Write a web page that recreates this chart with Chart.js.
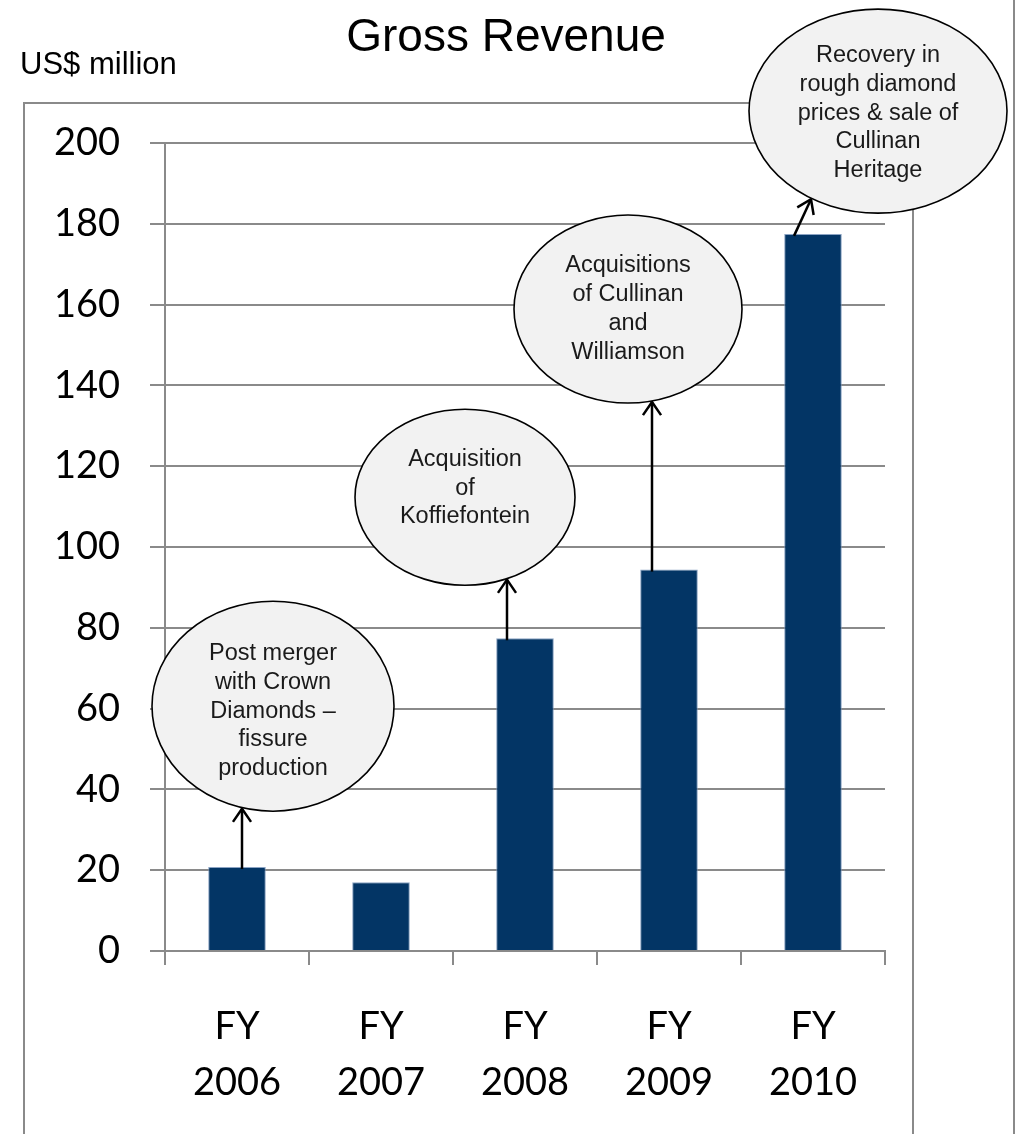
<!DOCTYPE html>
<html>
<head>
<meta charset="utf-8">
<script src="https://cdn.jsdelivr.net/npm/chart.js@4"></script>
<style>
  html, body { margin: 0; padding: 0; background: #fff; }
  #wrap { width: 1016px; height: 1134px; position: relative; }
</style>
</head>
<body>
<div id="wrap"><canvas id="revChart" width="1016" height="1134"></canvas></div>
<script>
// datos del grafico
const years = [['FY', '2006'], ['FY', '2007'], ['FY', '2008'], ['FY', '2009'], ['FY', '2010']];
const revenue = [20.8, 17.0, 77.4, 94.4, 177.5];
const yTicks = [0, 20, 40, 60, 80, 100, 120, 140, 160, 180, 200];

// notas (globos) sobre las barras
const noteBar = [0, 2, 3, 4];
const noteLevel = [60.6, 112.3, 158.9, 207.9];
const noteText = [
    ['Post merger', 'with Crown', 'Diamonds \u2013', 'fissure', 'production'],
    ['Acquisition', 'of', 'Koffiefontein'],
    ['Acquisitions', 'of Cullinan', 'and', 'Williamson'],
    ['Recovery in', 'rough diamond', 'prices & sale of', 'Cullinan', 'Heritage']
];
// posicion de cada globo respecto al centro de la barra
const noteStyle = [
    { dx: 36, rx: 121, ry: 105, textDy: 5, arrowFrom: 5, arrowTo: 5 },
    { dx: -60, rx: 110, ry: 88, textDy: -9, arrowFrom: -18, arrowTo: -18 },
    { dx: -41, rx: 114, ry: 94, textDy: 0, arrowFrom: -17, arrowTo: -17 },
    { dx: 65, rx: 129, ry: 102, textDy: 2, arrowFrom: -19, arrowTo: -2 }
];

const gridGray = '#8a8a8a';

// marco, titulo y unidad
const framePlugin = {
    id: 'frame',
    beforeDraw(chart) {
        const ctx = chart.ctx;
        ctx.save();
        ctx.strokeStyle = gridGray;
        ctx.lineWidth = 2;
        ctx.beginPath();
        ctx.moveTo(24, 1140);
        ctx.lineTo(24, 103);
        ctx.lineTo(913, 103);
        ctx.lineTo(913, 1140);
        ctx.moveTo(1014, 0);
        ctx.lineTo(1014, 1140);
        ctx.stroke();

        ctx.fillStyle = '#000';
        ctx.textBaseline = 'alphabetic';
        ctx.font = '46px "Liberation Sans", Arial, sans-serif';
        ctx.textAlign = 'center';
        ctx.fillText('Gross Revenue', 506, 51);
        ctx.font = '31px "Liberation Sans", Arial, sans-serif';
        ctx.textAlign = 'left';
        ctx.fillText('US$ million', 20, 74);
        ctx.restore();
    }
};

// globos con flechas
const notesPlugin = {
    id: 'notes',
    afterDraw(chart) {
        const ctx = chart.ctx;
        const xs = chart.scales.x;
        const ys = chart.scales.y;
        const bars = chart.getDatasetMeta(0).data;
        ctx.save();
        noteBar.forEach((b, i) => {
            const st = noteStyle[i];
            const barX = xs.getPixelForValue(b);
            const barTop = bars[b].y;
            const cx = barX + st.dx;
            const cy = ys.getPixelForValue(noteLevel[i]);

            // flecha
            const x0 = barX + st.arrowFrom;
            const x1 = barX + st.arrowTo;
            const k = (x1 - cx) / st.rx;
            const y1 = cy + st.ry * Math.sqrt(Math.max(0, 1 - k * k)) + 1;
            const y0 = barTop + 2;
            ctx.strokeStyle = '#000';
            ctx.lineWidth = 2.5;
            ctx.beginPath();
            ctx.moveTo(x0, y0);
            ctx.lineTo(x1, y1);
            ctx.stroke();
            const ang = Math.atan2(y1 - y0, x1 - x0);
            const len = 16, spread = 0.6;
            ctx.beginPath();
            ctx.moveTo(x1 - len * Math.cos(ang - spread), y1 - len * Math.sin(ang - spread));
            ctx.lineTo(x1, y1);
            ctx.lineTo(x1 - len * Math.cos(ang + spread), y1 - len * Math.sin(ang + spread));
            ctx.stroke();

            // elipse
            ctx.beginPath();
            ctx.ellipse(cx, cy, st.rx, st.ry, 0, 0, Math.PI * 2);
            ctx.fillStyle = '#f2f2f2';
            ctx.fill();
            ctx.lineWidth = 1.6;
            ctx.strokeStyle = '#000';
            ctx.stroke();

            // texto
            const lines = noteText[i];
            const lh = 28.7;
            ctx.fillStyle = '#1a1a1a';
            ctx.font = '23.5px "Liberation Sans", Arial, sans-serif';
            ctx.textAlign = 'center';
            ctx.textBaseline = 'middle';
            const startY = cy + st.textDy - (lines.length - 1) * lh / 2;
            lines.forEach((ln, j) => ctx.fillText(ln, cx, startY + j * lh));
        });
        ctx.restore();
    }
};

const ctx = document.getElementById('revChart').getContext('2d');
const chartInstance = new Chart(ctx, {
    type: 'bar',
    data: {
        labels: years,
        datasets: [{
            label: 'Gross Revenue',
            data: revenue,
            backgroundColor: '#033565',
            borderColor: 'rgba(110,140,180,0.8)',
            borderWidth: 1,
            borderSkipped: 'bottom',
            barPercentage: 0.4,
            categoryPercentage: 1.0
        }]
    },
    options: {
        responsive: false,
        animation: false,
        devicePixelRatio: 1,
        layout: { padding: { top: 143, right: 131, bottom: 0, left: 0 } },
        plugins: {
            legend: { display: false },
            title: { display: false },
            tooltip: { enabled: false }
        },
        scales: {
            x: {
                grid: {
                    drawOnChartArea: false,
                    drawTicks: true,
                    tickLength: 14,
                    color: gridGray,
                    lineWidth: 2
                },
                border: { display: true, color: gridGray, width: 2 },
                ticks: {
                    color: '#000',
                    padding: 34,
                    font: { family: 'Lato, "Open Sans", sans-serif', size: 38, lineHeight: 1.474 }
                },
                afterFit(scale) { scale.height = 183; }
            },
            y: {
                min: 0,
                max: 200,
                afterBuildTicks(scale) { scale.ticks = yTicks.map(v => ({ value: v })); },
                grid: {
                    color: gridGray,
                    lineWidth: 2,
                    tickLength: 15
                },
                border: { display: true, color: gridGray, width: 2 },
                ticks: {
                    color: '#000',
                    padding: 30,
                    font: { family: 'Lato, "Open Sans", sans-serif', size: 38 }
                },
                afterFit(scale) { scale.width = 165; }
            }
        }
    },
    plugins: [framePlugin, notesPlugin]
});
</script>
</body>
</html>
